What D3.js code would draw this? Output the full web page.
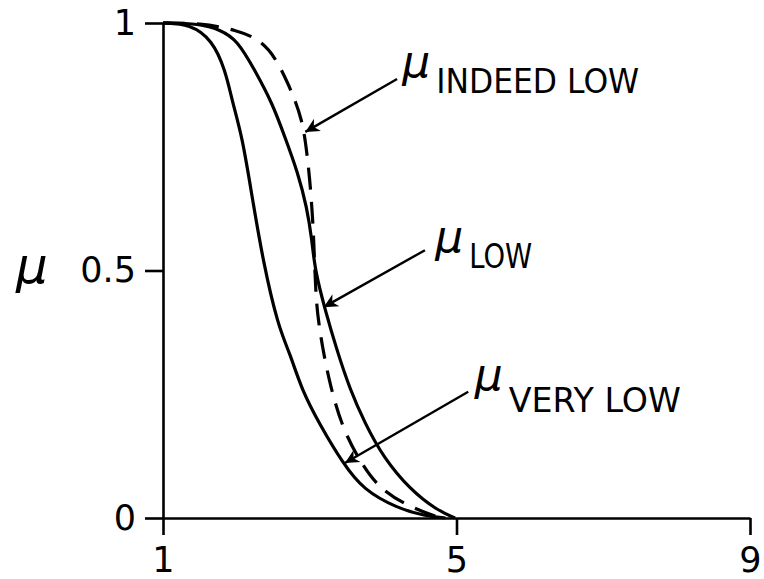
<!DOCTYPE html>
<html>
<head>
<meta charset="utf-8">
<script src="https://cdn.jsdelivr.net/npm/d3@7/dist/d3.min.js"></script>
<style>
  body { margin: 0; background: #fff; }
  svg { display: block; }
</style>
</head>
<body>
<svg id="canvas" width="764" height="579"></svg>
<script>
// values (x = scale value, y = membership)
let veryLowX = [1, 1.37, 1.67, 1.85, 1.95, 2.08, 2.21, 2.36, 2.57, 2.73, 2.89, 3.14, 3.45, 3.73, 4.19, 4.57, 4.85]
let veryLowY = [1, 0.998, 0.966, 0.905, 0.838, 0.77, 0.653, 0.521, 0.386, 0.333, 0.259, 0.188, 0.111, 0.057, 0.02, 0.004, 0]

let lowX = [1, 1.5, 1.78, 2.01, 2.25, 2.49, 2.66, 2.84, 2.96, 3.03, 3.07, 3.21, 3.37, 3.55, 3.75, 4.0, 4.37, 4.73, 4.98]
let lowY = [1, 0.999, 0.986, 0.966, 0.905, 0.838, 0.77, 0.697, 0.628, 0.562, 0.501, 0.42, 0.339, 0.259, 0.192, 0.123, 0.057, 0.016, 0]

let indeedLowX = [1, 1.5, 2.01, 2.32, 2.53, 2.7, 2.8, 2.89, 2.94, 3.0, 3.04, 3.06, 3.085, 3.126, 3.181, 3.276, 3.45, 3.73, 3.96, 4.33, 4.78]
let indeedLowY = [1, 1.0, 0.986, 0.966, 0.931, 0.879, 0.844, 0.804, 0.764, 0.687, 0.606, 0.541, 0.44, 0.39, 0.339, 0.269, 0.178, 0.103, 0.059, 0.024, 0]

let xTicks = [1, 5, 9]
let yTicks = [0, 0.5, 1]
let yTickLabels = ['0', '0.5', '1']

let labelNames = ['INDEED LOW', 'LOW', 'VERY LOW']
let labelAt = [[4.26, 0.89], [4.71, 0.537], [5.25, 0.258]]     // where the mu sits
let arrowFrom = [[4.19, 0.887], [4.57, 0.541], [5.16, 0.255]]
let arrowTo = [[2.94, 0.78], [3.19, 0.426], [3.48, 0.111]]
let subWidth = [203, 63, 172]

let svg = d3.select('#canvas')

svg.append('rect').attr('width', 764).attr('height', 579).attr('fill', '#fff')

let xScale = d3.scaleLinear().domain([1, 9]).range([163, 750])
let yScale = d3.scaleLinear().domain([0, 1]).range([518, 23])

let font = "'DejaVu Sans', sans-serif"

// axes
let xAxis = d3.axisBottom(xScale)
                .tickValues(xTicks)
                .tickSize(17)
                .tickSizeOuter(0)
                .tickPadding(12)
                .tickFormat(d3.format('d'))

let yAxis = d3.axisLeft(yScale)
                .tickValues(yTicks)
                .tickSize(18)
                .tickSizeOuter(0)
                .tickPadding(9)
                .tickFormat((d, i) => yTickLabels[i])

let gx = svg.append('g')
            .attr('transform', 'translate(0, ' + yScale(0) + ')')
            .call(xAxis)

let gy = svg.append('g')
            .attr('transform', 'translate(' + xScale(1) + ', 0)')
            .call(yAxis)

for (let g of [gx, gy]) {
    g.selectAll('path, line')
        .attr('stroke', '#000')
        .attr('stroke-width', 2.6)
    g.selectAll('text')
        .attr('fill', '#000')
        .style('font-family', font)
        .style('font-size', '35px')
}

// axis title
svg.append('text')
    .attr('x', 16)
    .attr('y', 283)
    .text('μ')
    .style('font-family', font)
    .style('font-style', 'italic')
    .style('font-size', '50px')

// curves
let line = d3.line()
            .x((d) => xScale(d[0]))
            .y((d) => yScale(d[1]))
            .curve(d3.curveBasis)

let curves = [
    { xs: veryLowX, ys: veryLowY, dash: null },
    { xs: lowX, ys: lowY, dash: null },
    { xs: indeedLowX, ys: indeedLowY, dash: '22,12' }
]

curves.forEach((c) => {
    let pts = c.xs.map((x, i) => [x, c.ys[i]])
    svg.append('path')
        .datum(pts)
        .attr('d', line)
        .attr('fill', 'none')
        .attr('stroke', '#000')
        .attr('stroke-width', 3.2)
        .attr('stroke-dasharray', c.dash)
})

// arrows + labels
svg.append('defs').append('marker')
    .attr('id', 'head')
    .attr('viewBox', '0 0 10 10')
    .attr('refX', 10)
    .attr('refY', 5)
    .attr('markerWidth', 22)
    .attr('markerHeight', 14)
    .attr('markerUnits', 'userSpaceOnUse')
    .attr('orient', 'auto')
    .append('path')
    .attr('d', 'M0,0 L10,5 L0,10 L3,5 Z')
    .attr('fill', '#000')

labelNames.forEach((name, i) => {
    svg.append('line')
        .attr('x1', xScale(arrowFrom[i][0]))
        .attr('y1', yScale(arrowFrom[i][1]))
        .attr('x2', xScale(arrowTo[i][0]))
        .attr('y2', yScale(arrowTo[i][1]))
        .attr('stroke', '#000')
        .attr('stroke-width', 2.4)
        .attr('marker-end', 'url(#head)')

    let lx = xScale(labelAt[i][0])
    let ly = yScale(labelAt[i][1])

    svg.append('text')
        .attr('x', lx)
        .attr('y', ly)
        .text('μ')
        .style('font-family', font)
        .style('font-style', 'italic')
        .style('font-size', '44px')

    svg.append('text')
        .attr('x', lx + 34)
        .attr('y', ly + (i === 2 ? 22 : 16))
        .attr('textLength', subWidth[i])
        .attr('lengthAdjust', 'spacingAndGlyphs')
        .text(name)
        .style('font-family', font)
        .style('font-size', '34px')
})
</script>
</body>
</html>
